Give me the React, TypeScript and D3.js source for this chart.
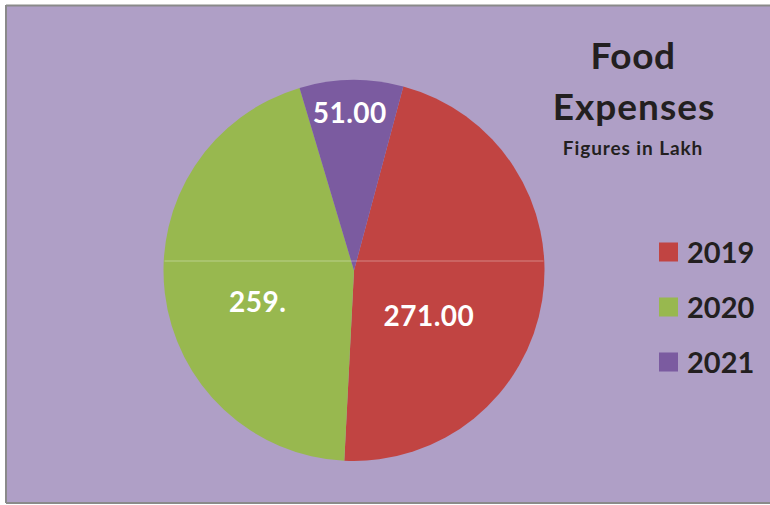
import React from "react";
import * as d3 from "d3";

// data
const years = ["2019", "2020", "2021"];
const expenses = [271, 259, 51];
const valueLabels = ["271.00", "259.", "51.00"];
const sliceColors = ["#C14442", "#98B84F", "#7B5BA0"];

// label placement (radius along the slice mid-angle, then a nudge)
const labelRadius = [88, 97, 158];
const labelNudge = [[-12, 32], [0, 20], [-2, 0]];

const W = 770;
const H = 505;
const cx = 354;
const cy = 270.5;
const radius = 190.5;
const startDeg = 15;

const App = () => {
  const slices = d3
    .pie<number>()
    .value((d) => d)
    .sort(null)
    .startAngle((startDeg * Math.PI) / 180)
    .endAngle((startDeg * Math.PI) / 180 + 2 * Math.PI)(expenses);

  const arc = d3.arc<d3.PieArcDatum<number>>().innerRadius(0).outerRadius(radius);

  const legendY = d3.scalePoint<string>().domain(years).range([252, 362]);

  return (
    <svg
      width={W}
      height={H}
      style={{ position: "absolute", left: 0, top: 0, fontFamily: "Lato, 'Open Sans', sans-serif" }}
    >
      <rect x={0} y={0} width={W} height={H} fill="#ffffff" />
      <rect x={6} y={6} width={W - 6} height={H - 9} fill="#AF9FC6" />
      {/* frame */}
      <line x1={6} x2={W} y1={5.5} y2={5.5} stroke="#8a8a8a" strokeWidth={2} />
      <line x1={6} x2={6} y1={5} y2={503} stroke="#8a8a8a" strokeWidth={2} />
      <line x1={6} x2={W} y1={503} y2={503} stroke="#8a8a8a" strokeWidth={2} />

      <g transform={`translate(${cx},${cy})`}>
        {slices.map((s, i) => (
          <path key={`slice-${i}`} d={arc(s) || ""} fill={sliceColors[i]} />
        ))}
        <line
          x1={-radius + 1}
          x2={radius - 1}
          y1={-9.5}
          y2={-9.5}
          stroke="#ffffff"
          strokeOpacity={0.35}
          strokeWidth={1}
        />
        {slices.map((s, i) => {
          const mid = (s.startAngle + s.endAngle) / 2;
          const x = labelRadius[i] * Math.sin(mid) + labelNudge[i][0];
          const y = -labelRadius[i] * Math.cos(mid) + labelNudge[i][1];
          return (
            <text
              key={`lbl-${i}`}
              x={x}
              y={y + 10}
              textAnchor="middle"
              fill="#ffffff"
              fontWeight="bold"
              fontSize={28}
              letterSpacing={0.5}
            >
              {valueLabels[i]}
            </text>
          );
        })}
      </g>

      {/* title */}
      <g fill="#231f20" fontWeight="bold" textAnchor="middle">
        <text x={633} y={69} fontSize={37} letterSpacing={0.5}>Food</text>
        <text x={634} y={120} fontSize={37} letterSpacing={1}>Expenses</text>
        <text x={633} y={155} fontSize={19} letterSpacing={0.9}>Figures in Lakh</text>
      </g>

      {/* legend */}
      {years.map((yr, i) => (
        <g key={`leg-${yr}`} transform={`translate(0,${legendY(yr)})`}>
          <rect x={659} y={-9.5} width={19} height={19} fill={sliceColors[i]} />
          <text x={687} y={11} fontSize={29} fontWeight="bold" fill="#231f20">
            {yr}
          </text>
        </g>
      ))}
    </svg>
  );
};

export default App;
